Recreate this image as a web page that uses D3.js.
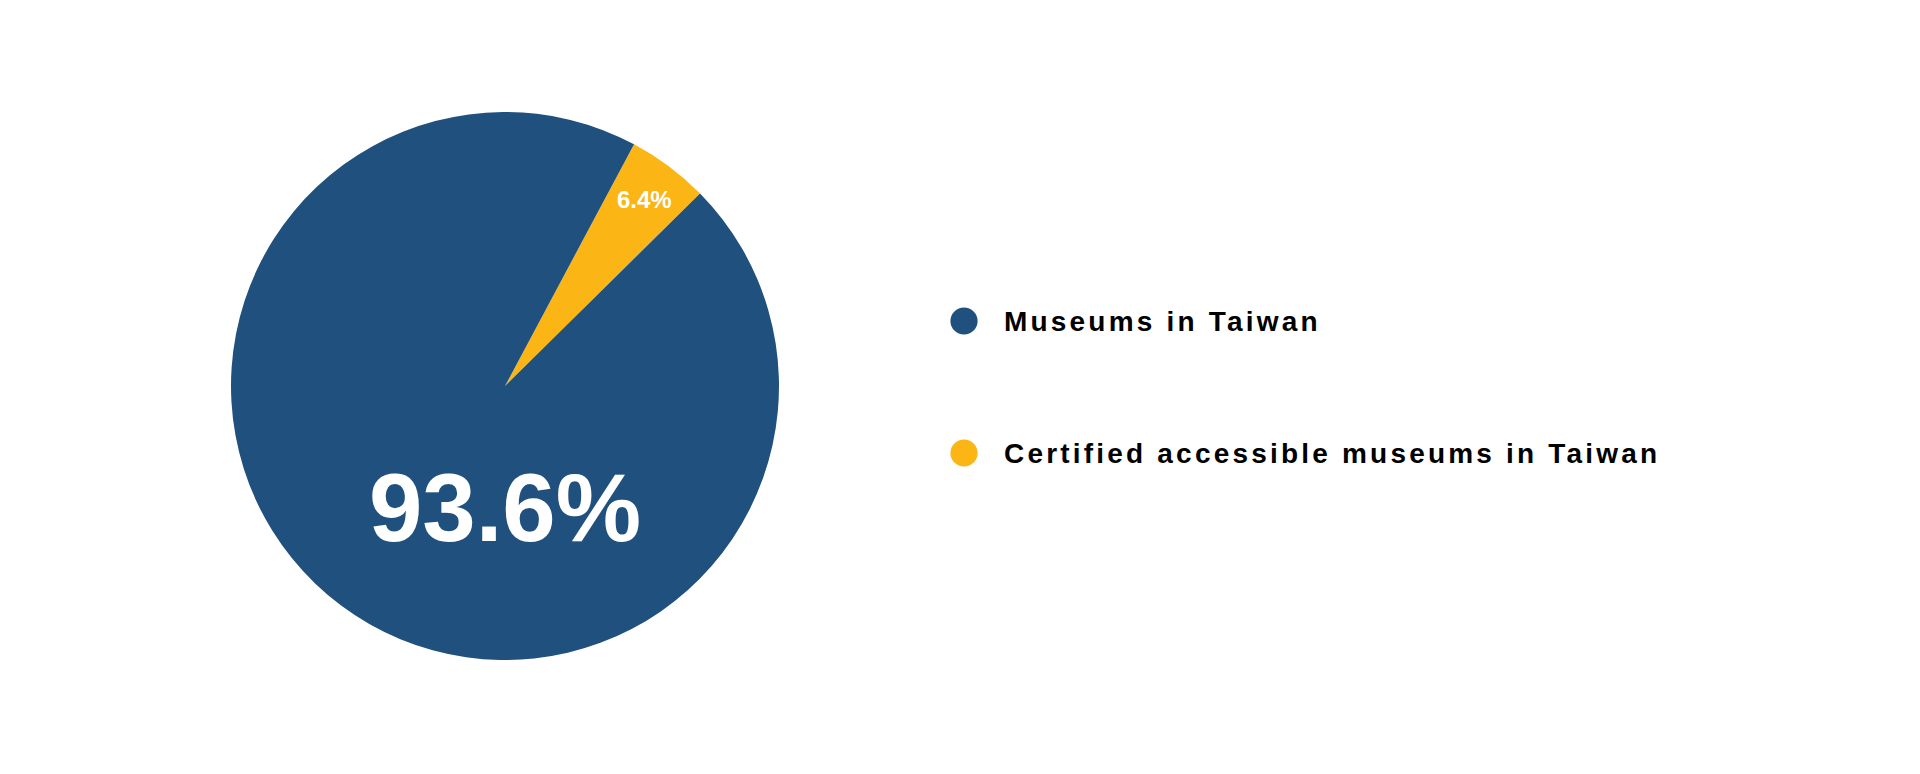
<!DOCTYPE html>
<html>
<head>
<meta charset="utf-8">
<script src="https://cdn.jsdelivr.net/npm/d3@7"></script>
<style>
  html, body { margin: 0; padding: 0; background: #ffffff; }
  svg { display: block; }
</style>
</head>
<body>
<svg id="chart" width="1920" height="774"></svg>
<script>
// ---- data ----
const categories = ["Certified accessible museums in Taiwan", "Museums in Taiwan"];
const sliceShares = [4.8, 95.2];          // angular share of each slice as drawn
const sliceLabels = ["6.4%", "93.6%"];     // printed labels
const legendOrder = ["Museums in Taiwan", "Certified accessible museums in Taiwan"];
const colors = ["#FBB515", "#20507E"];

// ---- layout ----
const cx = 505, cy = 386, R = 274;
const startDeg = 28.1;

const svg = d3.select("#chart");
const color = d3.scaleOrdinal().domain(categories).range(colors);

const data = categories.map((c, i) => ({ cat: c, value: sliceShares[i], label: sliceLabels[i] }));

const pie = d3.pie()
  .sort(null)
  .value(d => d.value)
  .startAngle(startDeg * Math.PI / 180)
  .endAngle(startDeg * Math.PI / 180 + 2 * Math.PI);

const arcs = pie(data);
const arc = d3.arc().innerRadius(0).outerRadius(R);

const g = svg.append("g").attr("transform", `translate(${cx},${cy})`);

g.selectAll("path.slice")
  .data(arcs)
  .join("path")
  .attr("class", "slice")
  .attr("d", arc)
  .attr("fill", d => color(d.data.cat));

// small slice label
const smallArc = d3.arc().innerRadius(R * 0.85).outerRadius(R * 0.85);
g.append("text")
  .datum(arcs[0])
  .attr("transform", d => {
    const [x, y] = smallArc.centroid(d);
    return `translate(${x},${y})`;
  })
  .attr("text-anchor", "middle")
  .attr("dy", "0.36em")
  .attr("font-family", "'Liberation Sans', Arial, sans-serif")
  .attr("font-weight", "bold")
  .attr("font-size", 24)
  .attr("fill", "#ffffff")
  .text(d => d.data.label);

// big slice label
g.append("text")
  .datum(arcs[1])
  .attr("x", 0)
  .attr("y", 155)
  .attr("text-anchor", "middle")
  .attr("font-family", "'Liberation Sans', Arial, sans-serif")
  .attr("font-weight", "bold")
  .attr("font-size", 96)
  .attr("fill", "#ffffff")
  .text(d => d.data.label);

// ---- legend ----
const legendY = d3.scalePoint().domain(legendOrder).range([321, 453]);
const legend = svg.append("g");
const items = legend.selectAll("g.item")
  .data(legendOrder)
  .join("g")
  .attr("class", "item")
  .attr("transform", d => `translate(964,${legendY(d)})`);

items.append("circle")
  .attr("r", 13.6)
  .attr("fill", d => color(d));

items.append("text")
  .attr("x", 40)
  .attr("y", 10)
  .attr("font-family", "'Liberation Sans', Arial, sans-serif")
  .attr("font-weight", "bold")
  .attr("font-size", 28)
  .attr("letter-spacing", "3.2px")
  .attr("fill", "#000000")
  .text(d => d);
</script>
</body>
</html>
